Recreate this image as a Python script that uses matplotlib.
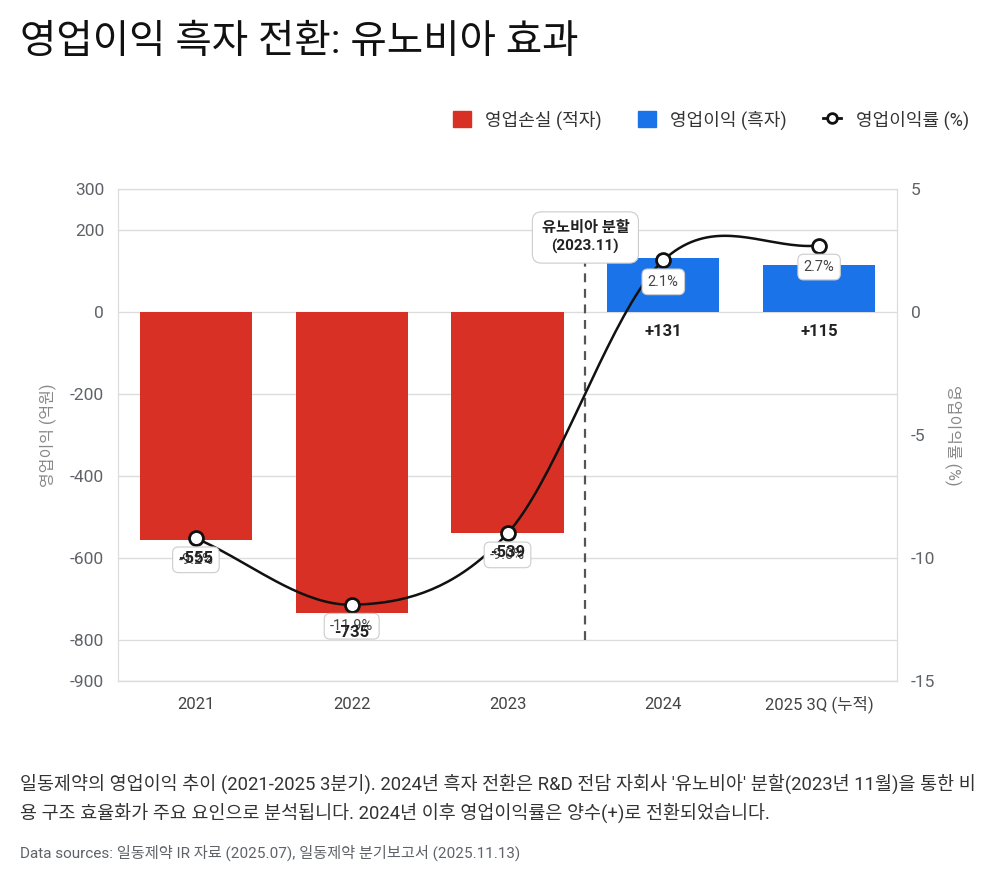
import numpy as np
import matplotlib
matplotlib.use('Agg')
import matplotlib.pyplot as plt
from matplotlib.lines import Line2D
from matplotlib.patches import Patch

# 글꼴 설정
plt.rcParams['font.family'] = ['Roboto', 'Noto Sans CJK KR', 'DejaVu Sans']
plt.rcParams['axes.unicode_minus'] = False

# 데이터
years = ['2021', '2022', '2023', '2024', '2025 3Q (누적)']
op_income = [-555, -735, -539, 131, 115]          # 영업이익 (억원)
op_margin = [-9.2, -11.9, -9.0, 2.1, 2.7]         # 영업이익률 (%)
left_ticks = [300, 200, 0, -200, -400, -600, -800, -900]
right_ticks = [5, 0, -5, -10, -15]

RED = '#d93025'
BLUE = '#1a73e8'
GRAY = '#5f6368'
GRID = '#dcdcdc'


def catmull_rom(xs, ys, n=40):
    # 곡선 그리기용 스플라인
    xs = np.asarray(xs, float)
    ys = np.asarray(ys, float)
    px = np.concatenate([[2 * xs[0] - xs[1]], xs, [2 * xs[-1] - xs[-2]]])
    py = np.concatenate([[2 * ys[0] - ys[1]], ys, [2 * ys[-1] - ys[-2]]])
    outx, outy = [], []
    t = np.linspace(0, 1, n)
    for i in range(1, len(px) - 2):
        for arr, out in ((px, outx), (py, outy)):
            p0, p1, p2, p3 = arr[i - 1], arr[i], arr[i + 1], arr[i + 2]
            out.extend(0.5 * ((2 * p1) + (-p0 + p2) * t
                              + (2 * p0 - 5 * p1 + 4 * p2 - p3) * t ** 2
                              + (-p0 + 3 * p1 - 3 * p2 + p3) * t ** 3))
    return np.array(outx), np.array(outy)


fig = plt.figure(figsize=(10, 8.83), dpi=100)
ax = fig.add_axes([0.118, 0.2288, 0.779, 0.5572])
ax2 = ax.twinx()

x = np.arange(len(years))
colors = [RED if v < 0 else BLUE for v in op_income]
ax.bar(x, op_income, width=0.72, color=colors, zorder=2)

ax.set_xlim(-0.5, len(years) - 0.5)
ax.set_ylim(-900, 300)
ax.set_yticks(left_ticks)
ax.set_xticks(x)
ax.set_xticklabels(years)
ax.grid(axis='y', color=GRID, linewidth=1, zorder=0)
ax.set_axisbelow(True)
ax.tick_params(length=0, colors=GRAY, labelsize=12.5, pad=10)
ax.tick_params(axis='x', colors='#444444', labelsize=12, pad=20)
for lbl in ax.get_xticklabels():
    lbl.set_verticalalignment('baseline')
for s in ax.spines.values():
    s.set_color(GRID)
for s in ax2.spines.values():
    s.set_color(GRID)
ax.spines['bottom'].set_color('#bbbbbb')
ax.set_ylabel('영업이익 (억원)', color='#888888', fontsize=11.5, labelpad=9)

ax2.set_ylim(-15, 5)
ax2.set_yticks(right_ticks)
ax2.tick_params(length=0, colors=GRAY, labelsize=12.5, pad=10)
ax2.set_ylabel('영업이익률 (%)', color='#888888', fontsize=11.5, rotation=-90, labelpad=19)

# 영업이익률 곡선
cx, cy = catmull_rom(x, op_margin)
ax2.plot(cx, cy, color='#111111', linewidth=1.8, zorder=4)
ax2.plot(x, op_margin, 'o', markersize=10, markerfacecolor='white',
         markeredgecolor='#111111', markeredgewidth=2, zorder=5)

# 라벨
for xi, m in zip(x, op_margin):
    ax2.annotate(f'{m:.1f}%', (xi, m), xytext=(0, -15.5), textcoords='offset points',
                 ha='center', va='center', fontsize=10.5, color='#444444', zorder=6,
                 bbox=dict(boxstyle='round,pad=0.4', fc='white', ec='#cccccc', lw=0.8))
for xi, v in zip(x, op_income):
    lab = f'+{v}' if v > 0 else f'{v}'
    ax2.annotate(lab, (xi, min(v, 0) * 20 / 1200), xytext=(0, -14), textcoords='offset points',
                 ha='center', va='center', fontsize=12, fontweight='bold', color='#222222', zorder=7)

# 분할 시점 표시
ax.plot([2.5, 2.5], [-800, 130], linestyle=(0, (4, 3)), color='#555555', linewidth=1.6, zorder=3)
ax.text(2.5, 182, '유노비아 분할\n(2023.11)', ha='center', va='center', fontsize=11,
        fontweight='bold', color='#222222', zorder=8, linespacing=1.35,
        bbox=dict(boxstyle='round,pad=0.6', fc='white', ec='#cccccc', lw=0.8))

# 범례
handles = [Patch(color=RED, label='영업손실 (적자)'),
           Patch(color=BLUE, label='영업이익 (흑자)'),
           Line2D([0], [0], color='#111111', lw=2, marker='o', markersize=7,
                  markerfacecolor='white', markeredgewidth=2, label='영업이익률 (%)')]
fig.legend(handles=handles, loc='center right', bbox_to_anchor=(0.985, 0.864), ncol=3,
           frameon=False, fontsize=13, handlelength=1.0, handleheight=1.0,
           columnspacing=2.0, handletextpad=0.8, labelcolor='#333333')

# 제목 및 설명
fig.text(0.02, 0.953, '영업이익 흑자 전환: 유노비아 효과', fontsize=28.5, va='center', color='#111111')
fig.text(0.02, 0.112, "일동제약의 영업이익 추이 (2021-2025 3분기). 2024년 흑자 전환은 R&D 전담 자회사 '유노비아' 분할(2023년 11월)을 통한 비",
         fontsize=13.3, va='center', color='#333333')
fig.text(0.02, 0.080, '용 구조 효율화가 주요 요인으로 분석됩니다. 2024년 이후 영업이익률은 양수(+)로 전환되었습니다.',
         fontsize=13.3, va='center', color='#333333')
fig.text(0.02, 0.034, 'Data sources: 일동제약 IR 자료 (2025.07), 일동제약 분기보고서 (2025.11.13)',
         fontsize=11, va='center', color=GRAY)

fig.savefig('out.png', dpi=100)
